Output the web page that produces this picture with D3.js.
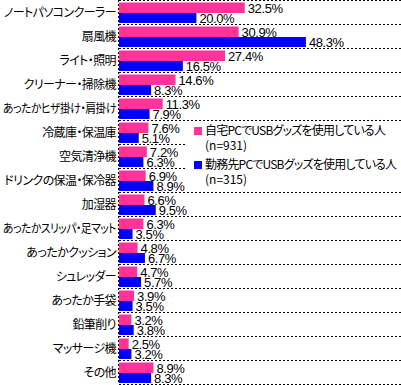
<!DOCTYPE html>
<html>
<head>
<meta charset="utf-8">
<script src="https://cdn.jsdelivr.net/npm/d3@7"></script>
<style>
  body { margin: 0; background: #fff; }
  text { font-family: "Noto Sans CJK JP", sans-serif; font-feature-settings: "palt"; }
  .val { font-family: "Liberation Sans Narrow", "Liberation Sans", sans-serif; font-feature-settings: normal; }
</style>
</head>
<body>
<svg id="chart"></svg>
<script>
const categories = ["ノートパソコンクーラー", "扇風機", "ライト・照明", "クリーナー・掃除機",
  "あったかヒザ掛け・肩掛け", "冷蔵庫・保温庫", "空気清浄機", "ドリンクの保温・保冷器",
  "加湿器", "あったかスリッパ・足マット", "あったかクッション", "シュレッダー",
  "あったか手袋", "鉛筆削り", "マッサージ機", "その他"];
const homeValues = [32.5, 30.9, 27.4, 14.6, 11.3, 7.6, 7.2, 6.9, 6.6, 6.3, 4.8, 4.7, 3.9, 3.2, 2.5, 8.9];
const workValues = [20.0, 48.3, 16.5, 8.3, 7.9, 5.1, 6.3, 8.9, 9.5, 3.5, 6.7, 5.7, 3.5, 3.8, 3.2, 8.3];
const seriesNames = ["自宅PCでUSBグッズを使用している人", "勤務先PCでUSBグッズを使用している人"];
const seriesN = ["(n=931)", "(n=315)"];
const colors = ["#ff3399", "#0000ff"];

const width = 401, height = 385;
const left = 119;
const svg = d3.select("#chart").attr("width", width).attr("height", height);

const y = d3.scaleBand().domain(categories).range([0, 384]);
const x = d3.scaleLinear().domain([0, 50]).range([left, left + 193.5]);

// row separators
const lines = d3.range(categories.length + 1).map(i => i * y.step());
svg.append("g").selectAll("line").data(lines).enter().append("line")
  .attr("x1", left).attr("x2", width)
  .attr("y1", d => d + 0.5).attr("y2", d => d + 0.5)
  .attr("stroke", "#000").attr("stroke-dasharray", "2,2");

const rows = svg.append("g").selectAll("g").data(categories).enter().append("g")
  .attr("transform", d => `translate(0,${y(d)})`);

rows.append("rect").attr("x", left).attr("y", 2.5).attr("height", 10.5)
  .attr("width", (d, i) => x(homeValues[i]) - left).attr("fill", colors[0]);
rows.append("rect").attr("x", left).attr("y", 13).attr("height", 10)
  .attr("width", (d, i) => x(workValues[i]) - left).attr("fill", colors[1]);

rows.append("text").attr("class", "val")
  .attr("x", (d, i) => x(homeValues[i]) + 3).attr("y", 8).attr("dy", "0.36em")
  .attr("font-size", 13).attr("letter-spacing", "-0.4")
  .text((d, i) => homeValues[i].toFixed(1) + "%");
rows.append("text").attr("class", "val")
  .attr("x", (d, i) => x(workValues[i]) + 3).attr("y", 18.5).attr("dy", "0.36em")
  .attr("font-size", 13).attr("letter-spacing", "-0.4")
  .text((d, i) => workValues[i].toFixed(1) + "%");

// category labels, squeezed when longer than the room left of the axis
rows.append("text").attr("x", 116).attr("y", 12.5).attr("dy", "0.36em")
  .attr("text-anchor", "end").attr("font-size", 12).attr("letter-spacing", "-0.6")
  .text(d => d)
  .each(function () {
    const len = this.getComputedTextLength();
    const maxLen = 113;
    if (len > maxLen) d3.select(this).attr("textLength", maxLen).attr("lengthAdjust", "spacingAndGlyphs");
  });

// axis
svg.append("line").attr("x1", left - 0.5).attr("x2", left - 0.5).attr("y1", 0).attr("y2", 384)
  .attr("stroke", "#000").attr("stroke-dasharray", "2,2");

// legend
const lg = svg.append("g");
lg.append("rect").attr("x", 187).attr("y", 121).attr("width", width - 187).attr("height", 70).attr("fill", "#fff");
seriesNames.forEach((name, i) => {
  const top = 127 + i * 34;
  lg.append("rect").attr("x", 194).attr("y", top).attr("width", 8).attr("height", 8).attr("fill", colors[i]);
  lg.append("text").attr("x", 205).attr("y", top + 4).attr("dy", "0.36em").attr("font-size", 12)
    .attr("letter-spacing", "-0.8").text(name)
    .each(function () {
      const len = this.getComputedTextLength();
      if (len > 192) d3.select(this).attr("textLength", 192).attr("lengthAdjust", "spacingAndGlyphs");
    });
  lg.append("text").attr("x", 205).attr("y", top + 19).attr("dy", "0.36em").attr("font-size", 12).text(seriesN[i]);
});
</script>
</body>
</html>
